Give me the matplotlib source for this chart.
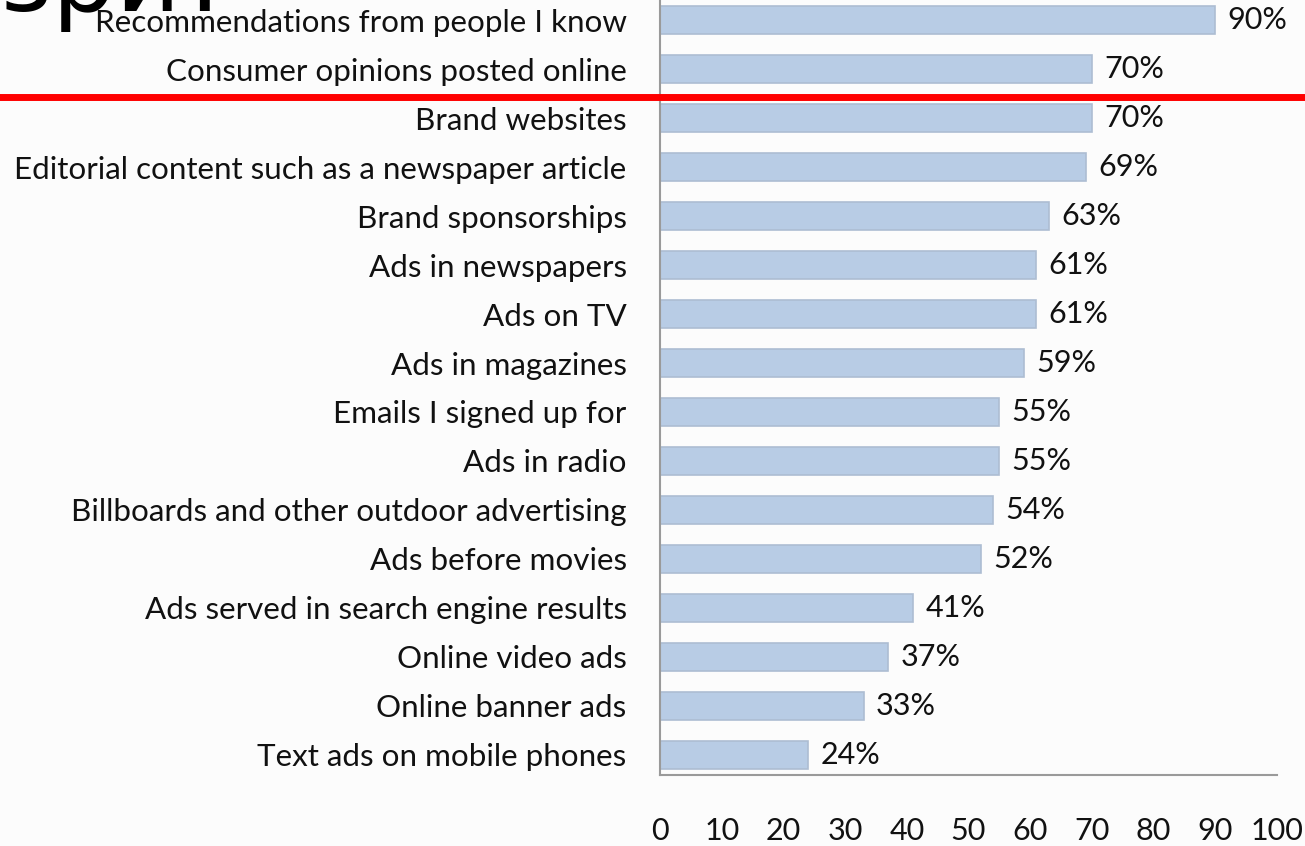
import matplotlib.pyplot as plt
from matplotlib.lines import Line2D

plt.rcParams["font.family"] = ["Lato", "DejaVu Sans"]

# Data (top to bottom)
categories = [
    "Recommendations from people I know",
    "Consumer opinions posted online",
    "Brand websites",
    "Editorial content such as a newspaper article",
    "Brand sponsorships",
    "Ads in newspapers",
    "Ads on TV",
    "Ads in magazines",
    "Emails I signed up for",
    "Ads in radio",
    "Billboards and other outdoor advertising",
    "Ads before movies",
    "Ads served in search engine results",
    "Online video ads",
    "Online banner ads",
    "Text ads on mobile phones",
]
values = [90, 70, 70, 69, 63, 61, 61, 59, 55, 55, 54, 52, 41, 37, 33, 24]
xticks = [0, 10, 20, 30, 40, 50, 60, 70, 80, 90, 100]

FS = 22.6
fig = plt.figure(figsize=(13.05, 8.46), dpi=100, facecolor="#fcfcfc")
W, H = 1305, 846
ax = fig.add_axes([660 / W, 1 - 775 / H, 617 / W, 775 / H])
ax.set_facecolor("#fcfcfc")

pos = list(range(len(categories)))
ax.barh(pos, values, height=0.56, color="#b8cce5", edgecolor="#adbdd2", linewidth=1.2)
for p, v in zip(pos, values):
    ax.text(v + 2.0, p, f"{v}%", va="center", ha="left", fontsize=22, color="#111111")

ax.set_xlim(0, 100)
ax.set_ylim(15.41, -0.41)
ax.set_yticks(pos)
ax.set_yticklabels(categories, fontsize=FS, color="#111111")
ax.set_xticks(xticks)
ax.set_xticklabels([str(t) for t in xticks], fontsize=22, color="#111111")
ax.tick_params(axis="y", length=0, pad=24)
ax.tick_params(axis="x", length=0, pad=30)

for s in ["top", "right"]:
    ax.spines[s].set_visible(False)
for s in ["left", "bottom"]:
    ax.spines[s].set_color("#9a9a9a")
    ax.spines[s].set_linewidth(1.5)

# red divider line across the slide
fig.add_artist(Line2D([0, 1], [1 - 97 / H, 1 - 97 / H], color="red", linewidth=5,
                      transform=fig.transFigure))

# clipped slide title fragment at the top-left (only its lower part shows)
fig.text(0.0, 1 - 11 / H, "зри?", fontsize=72, color="black", va="baseline",
         ha="left", family=["DejaVu Sans"])

fig.savefig("out.png", dpi=100, facecolor=fig.get_facecolor())
